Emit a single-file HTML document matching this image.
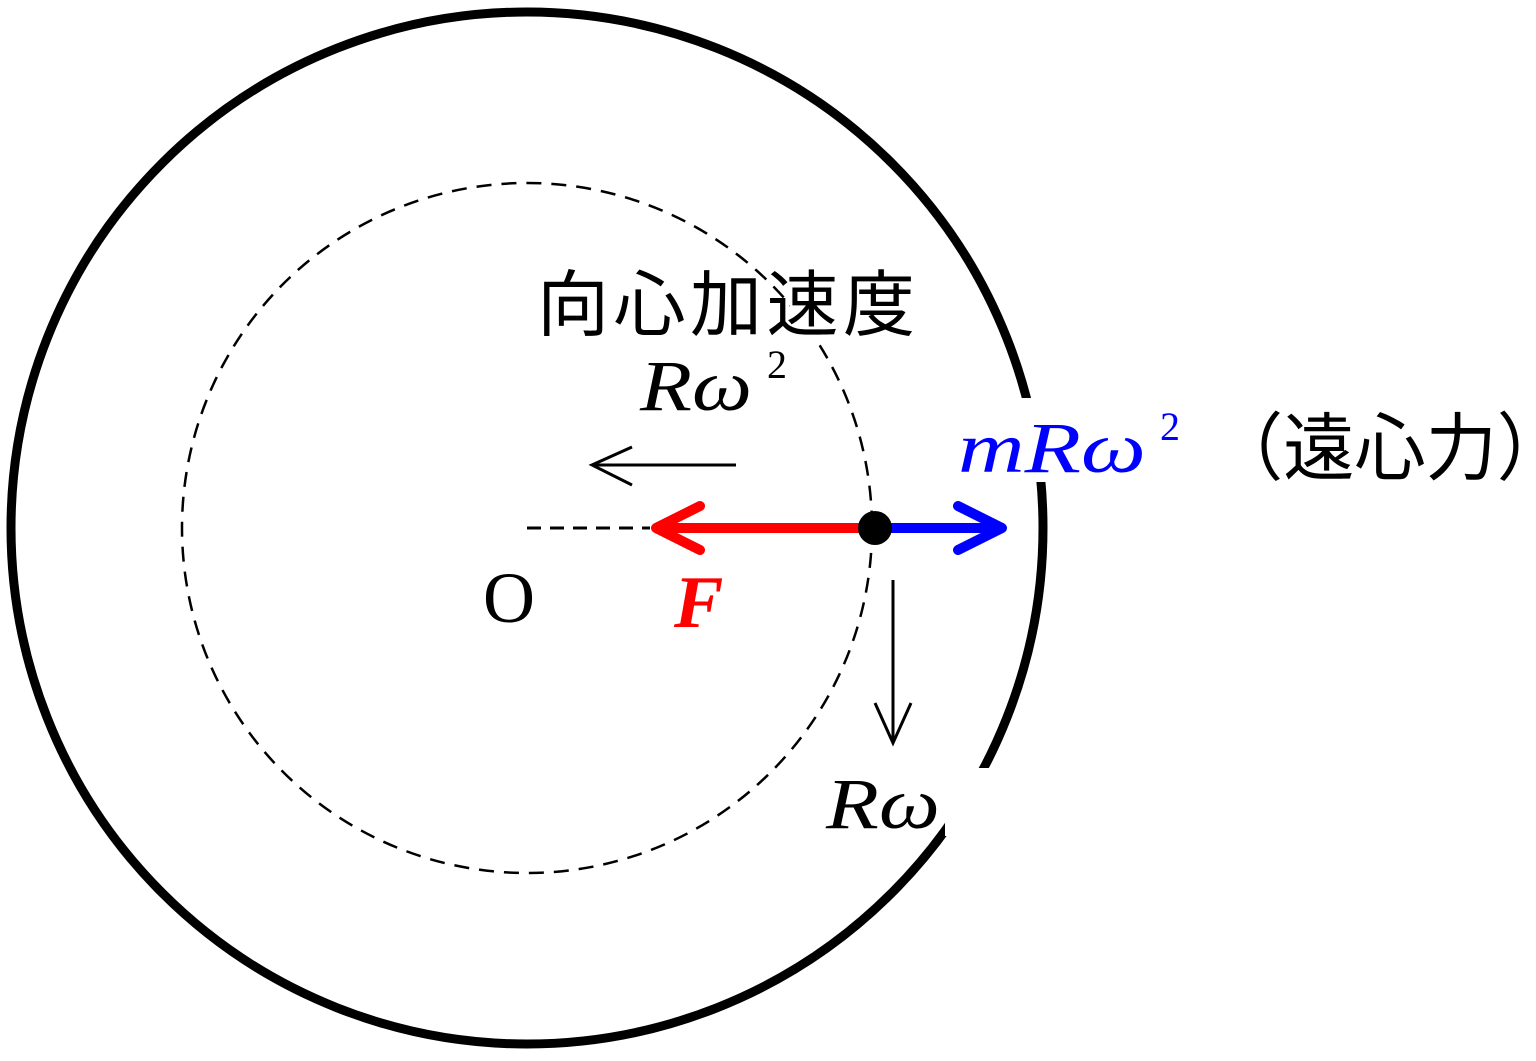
<!DOCTYPE html>
<html><head><meta charset="utf-8"><style>html,body{margin:0;padding:0;background:#fff}</style></head>
<body>
<svg width="1536" height="1056" viewBox="0 0 1536 1056" xmlns="http://www.w3.org/2000/svg">
<defs>
<style>
.t{font-family:"Liberation Serif","Noto Serif CJK SC",serif;font-style:italic;}
.j{font-family:"Liberation Sans","Noto Sans CJK JP",sans-serif;}
</style>
</defs>
<circle cx="527" cy="528" r="516" fill="none" stroke="#000" stroke-width="9"/>
<circle cx="527" cy="528" r="345" fill="none" stroke="#000" stroke-width="2.5" stroke-dasharray="15 10"/>
<line x1="527" y1="528" x2="650" y2="528" stroke="#000" stroke-width="3" stroke-dasharray="14 9"/>
<rect x="1010" y="398" width="60" height="84" fill="#fff"/>
<rect x="945" y="768" width="50" height="68" fill="#fff"/>
<rect x="790" y="270" width="60" height="70" fill="#fff"/>
<line x1="875" y1="528" x2="660" y2="528" stroke="#f00" stroke-width="10"/>
<polyline points="700,506 656,528 700,550" fill="none" stroke="#f00" stroke-width="10" stroke-linecap="round" stroke-linejoin="round"/>
<line x1="875" y1="528" x2="995" y2="528" stroke="#00f" stroke-width="10"/>
<polyline points="958,506 1002,528 958,550" fill="none" stroke="#00f" stroke-width="10" stroke-linecap="round" stroke-linejoin="round"/>
<circle cx="875" cy="528" r="17" fill="#000"/>
<line x1="736" y1="465" x2="592" y2="465" stroke="#000" stroke-width="3"/>
<polyline points="632,447 592,465 632,485" fill="none" stroke="#000" stroke-width="3"/>
<line x1="893" y1="580" x2="893" y2="743" stroke="#000" stroke-width="3"/>
<polyline points="875,703 893,743 911,703" fill="none" stroke="#000" stroke-width="3"/>
<text x="537" y="330" class="j" font-size="72" fill="#000" textLength="378" lengthAdjust="spacing">向心加速度</text>
<text x="640" y="410" class="t" font-size="72" fill="#000" textLength="112" lengthAdjust="spacingAndGlyphs">Rω</text>
<text x="767" y="378" font-family="Liberation Serif,serif" font-size="40" fill="#000">2</text>
<text x="483" y="622" font-family="Liberation Serif,serif" font-size="72" fill="#000">O</text>
<text x="674" y="627" class="t" font-size="74" fill="#f00" font-weight="bold">F</text>
<text x="958" y="472" class="t" font-size="72" fill="#00f" textLength="188" lengthAdjust="spacingAndGlyphs">mRω</text>
<text x="1160" y="440" font-family="Liberation Serif,serif" font-size="40" fill="#00f">2</text>
<text x="1212" y="474" class="j" font-size="74" fill="#000" textLength="356" lengthAdjust="spacingAndGlyphs">（遠心力）</text>
<text x="826" y="828" class="t" font-size="72" fill="#000" textLength="114" lengthAdjust="spacingAndGlyphs">Rω</text>
</svg>
</body></html>
